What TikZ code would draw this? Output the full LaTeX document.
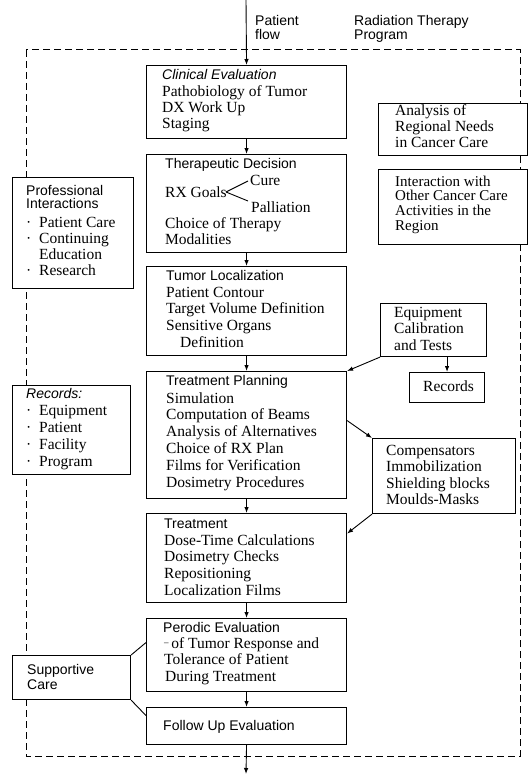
\documentclass[tikz,border=0pt]{standalone}
\usepackage{fontspec}
\setmainfont{Liberation Serif}
\newfontfamily\hsans{Liberation Sans}
\usetikzlibrary{arrows.meta}
\newcommand{\mylines}[1]{\begin{tabular}[t]{@{}l@{}}#1\end{tabular}}
\newcommand{\bul}{\makebox[13pt][l]{\textperiodcentered}}
\begin{document}
\begin{tikzpicture}[x=1pt,y=-1pt,
  box/.style={draw, line width=1.1pt, fill=white, inner sep=0pt, anchor=north west},
  body/.style={inner sep=0pt, anchor=base west, font=\fontsize{15.5}{16.7}\selectfont},
  head/.style={inner sep=0pt, anchor=base west, font=\hsans\fontsize{14}{14}\selectfont},
  conn/.style={line width=0.9pt},
  arr/.style={conn, -{Latex[length=6pt,width=4.5pt]}},
  frame/.style={line width=1pt, dash pattern=on 7pt off 4pt}]
\useasboundingbox (0,0) rectangle (528,781);
% dashed program frame
\coordinate (f1) at (26,50);
\coordinate (f2) at (520,756);
\draw[frame] (f1) rectangle (f2);
% patient flow in/out
\coordinate (in) at (246,0);
\coordinate (out) at (246,774);
% main column boxes
\node[box, minimum width=200pt, minimum height=73pt] (ce) at (146,65) {};
\node[box, minimum width=200pt, minimum height=98pt] (td) at (146,154) {};
\node[box, minimum width=200pt, minimum height=89pt] (tl) at (146,266) {};
\node[box, minimum width=200pt, minimum height=127pt] (tp) at (146,371) {};
\node[box, minimum width=200pt, minimum height=89pt] (tr) at (146,513) {};
\node[box, minimum width=200pt, minimum height=73pt] (pe) at (146,618) {};
\node[box, minimum width=200pt, minimum height=37pt] (fu) at (146,707) {};
% left boxes
\node[box, minimum width=121pt, minimum height=111pt] (pi) at (12,177) {};
\node[box, minimum width=118pt, minimum height=89pt] (rc) at (12,385) {};
\node[box, minimum width=118pt, minimum height=44pt] (sc) at (12,655) {};
% right boxes
\node[box, minimum width=149pt, minimum height=52pt] (an) at (378,103) {};
\node[box, minimum width=149pt, minimum height=75pt] (ia) at (378,169) {};
\node[box, minimum width=106pt, minimum height=53pt] (eq) at (380,303) {};
\node[box, minimum width=75pt, minimum height=30pt] (rc2) at (409,372) {};
\node[box, minimum width=143pt, minimum height=75pt] (cp) at (372,438) {};
% connectors
\draw[arr] (in) -- (ce.north);
\draw[arr] (ce.south) -- (td.north);
\draw[arr] (td.south) -- (tl.north);
\draw[arr] (tl.south) -- (tp.north);
\draw[arr] (tp.south) -- (tr.north);
\draw[arr] (tr.south) -- (pe.north);
\draw[arr] (pe.south) -- (fu.north);
\draw[arr] (fu.south) -- (out);
\draw[arr] (eq.south west) -- (tp.north east);
\draw[arr] (eq.south -| rc2.north) -- (rc2.north);
\draw[arr] ([yshift=14.5pt]tp.east) -- (cp.north west);
\draw[arr] (cp.south west) -- ([yshift=24.5pt]tr.east);
\draw[conn] (sc.north east) -- ([yshift=12.5pt]pe.west);
\draw[conn] (sc.south east) -- ([yshift=10.5pt]fu.west);
% top labels
\node[head] (l1) at (255,26) {Patient};
\node[head] (l2) at (255,40) {flow};
\node[head] (l3) at (354,26) {Radiation Therapy};
\node[head] (l4) at (354,40) {Program};
% clinical evaluation
\node[head, font=\hsans\itshape\fontsize{14}{14}\selectfont] (ceh) at (162,80) {Clinical Evaluation};
\node[body, font=\fontsize{15.5}{16}\selectfont] (ceb) at (162,96.5) {\mylines{Pathobiology of Tumor\\DX Work Up\\Staging}};
% therapeutic decision
\node[head] (tdh) at (165,168) {Therapeutic Decision};
\node[body] (tdc) at (250,185) {Cure};
\node[body] (tdr) at (165,197) {RX Goals};
\node[body] (tdp) at (251,212) {Palliation};
\coordinate (bt) at (226,192);
\draw[conn] (bt) -- (248,181);
\draw[conn] (bt) -- (248,201);
\node[body] (tdb) at (165,228) {\mylines{Choice of Therapy\\Modalities}};
% tumor localization
\node[head] (tlh) at (166,280) {Tumor Localization};
\node[body] (tlb) at (166,297) {\mylines{Patient Contour\\Target Volume Definition\\Sensitive Organs\\\hspace*{14pt}Definition}};
% treatment planning
\node[head] (tph) at (166,385) {Treatment Planning};
\node[body, font=\fontsize{15.5}{16.8}\selectfont] (tpb) at (166,403) {\mylines{Simulation\\Computation of Beams\\Analysis of Alternatives\\Choice of RX Plan\\Films for Verification\\Dosimetry Procedures}};
% treatment
\node[head] (trh) at (164,528) {Treatment};
\node[body] (trb) at (164,545) {\mylines{Dose-Time Calculations\\Dosimetry Checks\\Repositioning\\Localization Films}};
% periodic evaluation
\node[head] (peh) at (163,632) {Perodic Evaluation};
\node[body] (peb) at (164,648) {\mylines{\raisebox{3pt}{\fontsize{9}{9}\selectfont --}\,of Tumor Response and\\Tolerance of Patient\\\hspace*{1pt}During Treatment}};
% follow up
\node[head] (fuh) at (163,730) {Follow Up Evaluation};
% professional interactions
\node[head] (pih1) at (26,195) {Professional};
\node[head] (pih2) at (26,208) {Interactions};
\node[body, font=\fontsize{15.5}{16}\selectfont] (pib) at (26,227) {\mylines{\bul Patient Care\\\bul Continuing\\\hspace*{13pt}Education\\\bul Research}};
% records
\node[head, font=\hsans\itshape\fontsize{14}{14}\selectfont] (rch) at (26,398) {Records:};
\node[body, font=\fontsize{15.5}{17}\selectfont] (rcb) at (26,415) {\mylines{\bul Equipment\\\bul Patient\\\bul Facility\\\bul Program}};
% supportive care
\node[head] (sch1) at (27,674) {Supportive};
\node[head] (sch2) at (27,689) {Care};
% analysis
\node[body, font=\fontsize{15.5}{16}\selectfont] (anb) at (395,116) {\mylines{Analysis of\\Regional Needs\\in Cancer Care}};
% interaction
\node[body, font=\fontsize{15}{14.2}\selectfont] (iab) at (395,186) {\mylines{Interaction with\\Other Cancer Care\\Activities in the}};
\node[body, font=\fontsize{15}{14.2}\selectfont] (iab2) at (395,230) {Region};
% equipment
\node[body, font=\fontsize{15.5}{16.5}\selectfont] (eqb) at (394,317) {\mylines{Equipment\\Calibration\\and Tests}};
\node[body] (rc2b) at (423,391) {Records};
% compensators
\node[body, font=\fontsize{15.5}{16.5}\selectfont] (cpb) at (386,455) {\mylines{Compensators\\Immobilization\\Shielding blocks\\Moulds-Masks}};
\end{tikzpicture}
\end{document}
